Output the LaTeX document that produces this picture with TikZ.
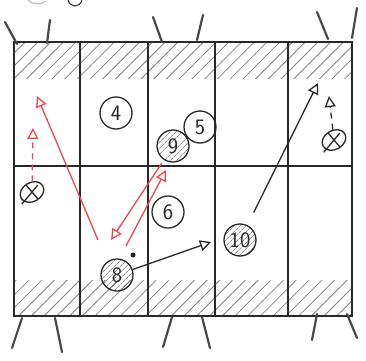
\documentclass[tikz,border=0pt]{standalone}
\usepackage{xcolor}
\usepackage{tikz}
\usetikzlibrary{patterns.meta, arrows.meta, shapes.geometric, calc}
\definecolor{tinta}{RGB}{40,40,40}
\definecolor{rojo}{RGB}{236,72,84}

\begin{document}
\begin{tikzpicture}[x=1pt, y=1pt,
  jugador/.style={circle, draw=tinta, line width=1.3pt, minimum size=32pt, inner sep=0pt,
    font=\sffamily\fontsize{22}{22}\selectfont, text=tinta},
  rayado/.style={pattern={Lines[angle=45, distance=4pt, line width=0.6pt]}, pattern color=tinta!80},
  cono/.style={ellipse, draw=tinta, line width=1.3pt, minimum width=25pt, minimum height=19pt,
    inner sep=0pt, rotate=30},
  balon/.style={circle, fill=tinta, minimum size=5pt, inner sep=0pt},
  flecha/.style={-{Triangle[open, length=11pt, width=11pt]}, line width=1.3pt}]

\useasboundingbox (0,0) rectangle (366,360);

% Restos de escritura arriba
\draw[gray!60, line width=1pt] (28,360) .. controls (32,355) and (42,355) .. (46,359);
\draw[tinta, line width=1pt] (68,360) .. controls (70,352) and (80,352) .. (82,360);

% Bandas rayadas
\fill[pattern={Lines[angle=45, distance=9pt, line width=0.8pt]}, pattern color=gray] (14,282) rectangle (352,318);
\fill[pattern={Lines[angle=45, distance=9pt, line width=0.8pt]}, pattern color=gray] (14,44) rectangle (352,80);

% Campo y cuadricula
\draw[line width=1.4pt, tinta] (14,44) rectangle (352,318);
\foreach \x in {80,148,215,288}
  \draw[line width=1.1pt, tinta] (\x,44) -- (\x,318);
\draw[line width=1.1pt, tinta] (14,194) -- (352,194);

% Marcas fuera del campo
\foreach \a/\b/\c/\d in {5/338/17/316, 50/340/47/317, 153/343/162/318, 203/345/197/320,
    317/348/328/321, 357/352/352/322, 22/42/12/12, 55/42/62/8, 172/43/163/13,
    202/43/210/12, 317/46/312/20, 347/46/357/22}
  \draw[line width=2.2pt, tinta!85, line cap=round] (\a,\b) -- (\c,\d);

% Jugadores
\node[jugador] (j4) at (116,247) {4};
\node[jugador] (j5) at (200,233) {5};
\node[jugador, rayado] (j9) at (173,214) {9};
\node[jugador] (j6) at (168,148) {6};
\node[jugador, rayado] (j10) at (240,120) {10};
\node[jugador, rayado] (j8) at (117,85) {8};

% Conos
\node[cono] (c1) at (32,168) {};
\node[cono] (c2) at (334,220) {};
\foreach \c in {c1,c2} {
  \draw[line width=1.3pt, tinta] ($(\c)+(130:9)$) -- ($(\c)+(-50:9)$);
  \draw[line width=1.3pt, tinta] ($(\c)+(50:9)$) -- ($(\c)+(230:16)$);
}

% Balon
\node[balon] (balon) at (133,105) {};

% Extremos libres
\coordinate (a1) at (98,120);
\coordinate (a2) at (37,264);
\coordinate (a3) at (33,232);
\coordinate (a4) at (111,120);
\coordinate (a5) at (126,114);
\coordinate (a6) at (166,190);
\coordinate (a7) at (318,277);
\coordinate (a8) at (329,264);
\coordinate (a9) at (211,118);

% Pases en rojo
\draw[flecha, rojo] (a1) -- (a2);
\draw[flecha, rojo, dash pattern=on 6pt off 5pt] (c1) -- (a3);
\draw[flecha, rojo, shorten <=4pt] (j9) -- (a4);
\draw[flecha, rojo] (a5) -- (a6);

% Movimientos en negro
\draw[flecha, tinta, shorten <=14pt] (j10) -- (a7);
\draw[flecha, tinta, dash pattern=on 6pt off 5pt] (c2) -- (a8);
\draw[flecha, tinta] (j8) -- (a9);

\end{tikzpicture}
\end{document}
